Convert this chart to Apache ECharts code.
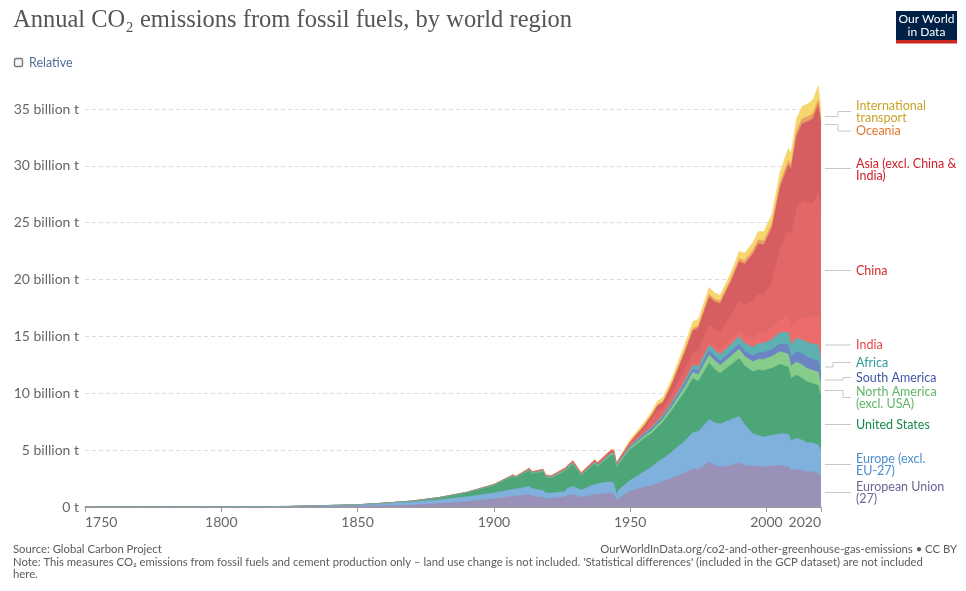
<!DOCTYPE html>
<html>
<head>
<meta charset="utf-8">
<script src="https://cdn.jsdelivr.net/npm/echarts@6/dist/echarts.min.js"></script>
<style>
html,body{margin:0;padding:0;background:#fff;}
#chart{width:966px;height:591px;}
</style>
</head>
<body>
<div id="chart"></div>
<script>
// ---- Data (billion tonnes CO2) ----
const years = [1750,1775,1800,1825,1850,1860,1870,1880,1890,1900,1907,1908,1913,1914,1918,1919,1921,1926,1927,1929,1932,1937,1938,1940,1943,1944,1945,1946,1950,1955,1958,1960,1962,1965,1970,1973,1975,1979,1981,1983,1987,1990,1992,1995,1997,1999,2002,2005,2008,2009,2011,2013,2015,2017,2019,2020];

const euroUnion = [0.001,0.002,0.004,0.01,0.06,0.11,0.18,0.3,0.48,0.72,0.95,0.95,1.1,0.95,0.85,0.7,0.78,0.9,1.0,1.1,0.85,1.1,1.15,1.15,1.25,1.15,0.55,0.8,1.4,1.75,1.9,2.05,2.25,2.5,3.0,3.35,3.3,3.95,3.65,3.5,3.65,3.9,3.65,3.6,3.6,3.5,3.6,3.65,3.55,3.25,3.3,3.2,3.1,3.1,2.95,2.65];
const europeExclEU = [0.008,0.013,0.022,0.037,0.12,0.19,0.25,0.34,0.42,0.52,0.62,0.62,0.72,0.68,0.6,0.55,0.45,0.45,0.65,0.7,0.65,0.9,0.9,1.0,0.95,0.95,0.55,0.75,0.95,1.35,1.65,1.9,2.0,2.3,2.8,3.2,3.35,3.75,3.75,3.8,4.05,4.05,3.6,2.85,2.7,2.65,2.7,2.8,2.85,2.6,2.75,2.7,2.55,2.55,2.5,2.35];
const unitedStates = [0,0.0002,0.0006,0.002,0.015,0.04,0.085,0.18,0.35,0.66,1.12,0.98,1.38,1.28,1.65,1.35,1.3,1.8,1.7,1.95,1.25,1.8,1.5,1.8,2.35,2.45,2.35,2.3,2.7,2.9,2.95,3.05,3.2,3.6,4.3,4.75,4.4,4.95,4.7,4.45,4.8,5.1,5.15,5.45,5.75,5.85,5.9,6.1,5.9,5.45,5.55,5.45,5.35,5.2,5.25,4.7];
const northAmericaExclUSA = [0,0,0,0,0.001,0.002,0.004,0.008,0.015,0.03,0.05,0.05,0.08,0.07,0.08,0.07,0.07,0.08,0.09,0.1,0.07,0.09,0.09,0.1,0.12,0.12,0.12,0.12,0.16,0.2,0.23,0.25,0.27,0.32,0.45,0.55,0.6,0.72,0.78,0.72,0.78,0.85,0.85,0.88,0.95,0.98,1.05,1.12,1.15,1.1,1.15,1.17,1.17,1.17,1.18,1.05];
const southAmerica = [0,0,0,0,0,0,0.001,0.002,0.005,0.01,0.015,0.015,0.02,0.02,0.02,0.02,0.02,0.025,0.025,0.03,0.025,0.035,0.035,0.04,0.04,0.045,0.045,0.05,0.09,0.12,0.14,0.15,0.16,0.19,0.25,0.3,0.32,0.38,0.38,0.36,0.4,0.42,0.45,0.52,0.57,0.6,0.6,0.68,0.8,0.78,0.88,0.97,1.0,0.98,0.97,0.88];
const africa = [0,0,0,0,0,0,0,0.001,0.002,0.005,0.01,0.01,0.015,0.015,0.015,0.015,0.015,0.02,0.02,0.02,0.02,0.025,0.025,0.03,0.035,0.035,0.04,0.05,0.1,0.13,0.15,0.16,0.17,0.2,0.28,0.33,0.37,0.47,0.55,0.58,0.62,0.67,0.7,0.75,0.8,0.82,0.88,1.0,1.12,1.12,1.18,1.25,1.3,1.35,1.42,1.3];
const india = [0,0,0,0,0,0.001,0.002,0.005,0.01,0.015,0.025,0.025,0.03,0.03,0.03,0.03,0.03,0.035,0.035,0.04,0.035,0.04,0.04,0.045,0.05,0.05,0.05,0.05,0.07,0.09,0.11,0.12,0.14,0.16,0.2,0.23,0.25,0.3,0.33,0.37,0.48,0.58,0.66,0.78,0.88,0.95,1.0,1.15,1.4,1.55,1.7,1.95,2.15,2.35,2.6,2.4];
const china = [0,0,0,0,0,0,0,0.001,0.005,0.01,0.015,0.015,0.02,0.02,0.025,0.025,0.03,0.035,0.035,0.04,0.04,0.045,0.045,0.05,0.07,0.07,0.06,0.07,0.08,0.3,0.6,0.78,0.44,0.55,0.8,0.9,1.15,1.5,1.45,1.6,2.05,2.48,2.7,3.3,3.45,3.3,4.0,6.3,7.5,8.0,9.7,10.2,10.1,10.0,10.7,10.9];
const asiaExcl = [0,0,0,0,0,0,0.001,0.002,0.005,0.01,0.02,0.02,0.03,0.03,0.04,0.04,0.04,0.05,0.06,0.07,0.06,0.1,0.1,0.12,0.13,0.12,0.05,0.05,0.15,0.25,0.35,0.45,0.55,0.8,1.5,1.9,2.0,2.45,2.45,2.5,3.0,3.5,3.6,4.1,4.45,4.4,4.8,5.3,5.8,5.85,6.4,6.8,7.15,7.45,7.8,7.4];
const oceania = [0,0,0,0,0.001,0.001,0.002,0.003,0.005,0.01,0.015,0.015,0.02,0.02,0.02,0.02,0.02,0.025,0.025,0.025,0.02,0.025,0.025,0.03,0.035,0.035,0.035,0.04,0.045,0.06,0.07,0.08,0.09,0.11,0.16,0.19,0.2,0.23,0.23,0.24,0.27,0.3,0.3,0.33,0.35,0.36,0.38,0.4,0.42,0.42,0.44,0.44,0.44,0.45,0.45,0.43];
const intlTransport = [0,0,0,0,0,0,0,0,0,0,0,0,0,0,0,0,0,0,0,0,0,0,0,0,0,0,0,0,0.2,0.26,0.3,0.33,0.36,0.42,0.55,0.62,0.57,0.62,0.55,0.5,0.52,0.63,0.66,0.7,0.75,0.8,0.82,0.95,1.05,1.0,1.07,1.08,1.12,1.2,1.25,0.9];

const seriesNames = ['European Union (27)','Europe (excl. EU-27)','United States','North America (excl. USA)','South America','Africa','India','China','Asia (excl. China & India)','Oceania','International transport'];
const seriesValues = [euroUnion, europeExclEU, unitedStates, northAmericaExclUSA, southAmerica, africa, india, china, asiaExcl, oceania, intlTransport];
const yTickLabels = ['0 t','5 billion t','10 billion t','15 billion t','20 billion t','25 billion t','30 billion t','35 billion t'];

// ---- Styles ----
const areaColors = ['#9a91b8','#80b1dc','#4ca677','#88cc8c','#6b84c4','#5eb0b2','#ec6b6b','#e26868','#d65d60','#e9a064','#f7d66e'];
const labelColors = ['#6e6596','#4b8dcc','#178a4f','#5fb567','#3f58a6','#2a9a9c','#e6444c','#d42b2b','#cc1f2a','#e0782f','#c9a32a'];

const chart = echarts.init(document.getElementById('chart'), null, {renderer:'canvas'});

// stacked totals built from the series arrays (drawn back-to-front)
const cumulative = [];
let running = years.map(() => 0);
seriesValues.forEach(vals => {
  running = running.map((r, k) => r + vals[k]);
  cumulative.push(running.slice());
});

const series = [];
for (let i = seriesNames.length - 1; i >= 0; i--) {
  series.push({
    name: seriesNames[i],
    type: 'line',
    symbol: 'none',
    showSymbol: false,
    smooth: false,
    z: 2,
    lineStyle: {width: 0.5, color: areaColors[i]},
    areaStyle: {color: areaColors[i], opacity: 1, origin: 'start'},
    itemStyle: {color: areaColors[i]},
    data: years.map((y, k) => [y, cumulative[i][k]])
  });
}

// right-side labels: [text, textY, connector polyline]
const labelLayout = [
  ['International\ntransport', 112, [[825,116.5],[838,116.5],[838,111.5],[851,111.5]]],
  ['Oceania', 131, [[825,124.5],[838,124.5],[838,131],[851,131]]],
  ['Asia (excl. China &\nIndia)', 170, [[825,168.5],[851,168.5]]],
  ['China', 270.5, [[825,270.5],[851,270.5]]],
  ['India', 345, [[825,345],[851,345]]],
  ['Africa', 363, [[825,367],[833,367],[833,362.5],[851,362.5]]],
  ['South America', 377.5, [[825,380],[843,380],[843,377.5],[851,377.5]]],
  ['North America\n(excl. USA)', 398, [[825,390.5],[843,390.5],[843,397.5],[851,397.5]]],
  ['United States', 424.5, [[825,424.5],[851,424.5]]],
  ['Europe (excl.\nEU-27)', 465, [[825,464.5],[851,464.5]]],
  ['European Union\n(27)', 493, [[825,492.5],[851,492.5]]]
];
const labelOrder = [10,9,8,7,6,5,4,3,2,1,0];
const graphics = [];
labelLayout.forEach((L, j) => {
  const si = labelOrder[j];
  graphics.push({type:'polyline', silent:true, shape:{points:L[2]}, style:{stroke:'#c8c8c8', lineWidth:1, fill:null}});
  graphics.push({type:'text', silent:true, style:{text:L[0], x:856, y:L[1], fill:labelColors[si], font:'12.5px Lato', lineHeight:12.5, textAlign:'left', align:'left', textVerticalAlign:'middle', verticalAlign:'middle'}});
});

// header / footer
graphics.push(
  {type:'text', silent:true, style:{text:'Annual CO\u2082 emissions from fossil fuels, by world region', x:13, y:21, fill:'#555555', font:'24.5px "Liberation Serif", serif', textVerticalAlign:'middle', verticalAlign:'middle'}},
  {type:'rect', silent:true, shape:{x:896, y:11, width:61, height:32}, style:{fill:'#002147'}},
  {type:'rect', silent:true, shape:{x:896, y:40, width:61, height:3.5}, style:{fill:'#ce261e'}},
  {type:'text', silent:true, style:{text:'Our World\nin Data', x:926.5, y:25.5, fill:'#ffffff', font:'12px Lato', lineHeight:12.5, textAlign:'center', align:'center', textVerticalAlign:'middle', verticalAlign:'middle'}},
  {type:'rect', silent:true, shape:{x:14.5, y:58.5, width:8, height:8, r:1.5}, style:{fill:'#f6f6f6', stroke:'#7a7a7a', lineWidth:1.4}},
  {type:'text', silent:true, style:{text:'Relative', x:29, y:62.5, fill:'#4c6e98', font:'12.5px Lato', textVerticalAlign:'middle', verticalAlign:'middle'}},
  {type:'text', silent:true, style:{text:'Source: Global Carbon Project', x:13, y:549.5, fill:'#5b5b5b', font:'11.3px Lato', textVerticalAlign:'middle', verticalAlign:'middle'}},
  {type:'text', silent:true, style:{text:'OurWorldInData.org/co2-and-other-greenhouse-gas-emissions \u2022 CC BY', x:957, y:549.5, fill:'#5b5b5b', font:'11.3px Lato', textAlign:'right', align:'right', textVerticalAlign:'middle', verticalAlign:'middle'}},
  {type:'text', silent:true, style:{text:"Note: This measures CO\u2082 emissions from fossil fuels and cement production only \u2013 land use change is not included. 'Statistical differences' (included in the GCP dataset) are not included\nhere.", x:13, y:568, fill:'#5b5b5b', font:'11.3px Lato', lineHeight:12, textVerticalAlign:'middle', verticalAlign:'middle'}}
);

chart.setOption({
  animation: false,
  backgroundColor: '#ffffff',
  grid: {left: 85, right: 145, top: 507 - 37 * (398 / 35), bottom: 591 - 507, containLabel: false},
  xAxis: {
    type: 'value', min: 1750, max: 2020, interval: 50,
    axisLine: {show: true, lineStyle: {color: '#9a9a9a', width: 1}},
    axisTick: {show: true, length: 5, lineStyle: {color: '#9a9a9a'}},
    splitLine: {show: false},
    axisLabel: {color: '#666666', fontFamily: 'Lato', fontSize: 14, margin: 8, showMinLabel: true, showMaxLabel: true, hideOverlap: false, alignMinLabel: 'left', alignMaxLabel: 'right', formatter: v => String(v)}
  },
  yAxis: {
    type: 'value', min: 0, max: 37, interval: 5,
    axisLine: {show: false}, axisTick: {show: false},
    splitLine: {show: true, showMinLine: false, showMaxLine: false, lineStyle: {color: '#dcdcdc', type: [4, 3], width: 1}},
    axisLabel: {color: '#666666', fontFamily: 'Lato', fontSize: 14, margin: 6, showMaxLabel: false,
      formatter: v => (v % 5 === 0 ? yTickLabels[v / 5] : '')}
  },
  series: series,
  graphic: {elements: graphics}
});
</script>
</body>
</html>
